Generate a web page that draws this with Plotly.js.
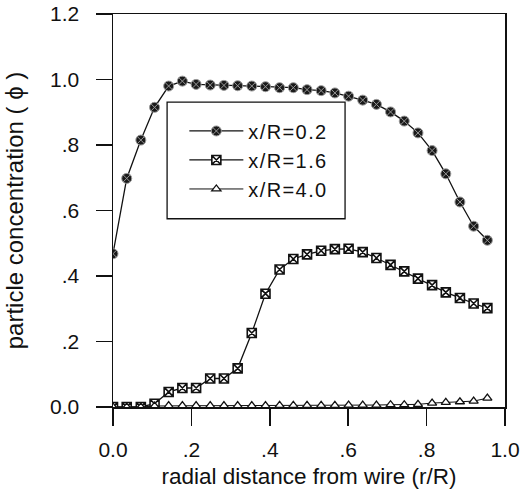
<!DOCTYPE html>
<html>
<head>
<meta charset="utf-8">
<script src="https://cdn.plot.ly/plotly-3.0.1.min.js"></script>
<style>
html,body{margin:0;padding:0;background:#fff;}
#chart{width:527px;height:498px;}
#chart .legendtext{letter-spacing:1.4px;}
#chart .legend .scrollbox{clip-path:none !important;}
</style>
</head>
<body>
<div id="chart"></div>
<script>
var rr = [0, .035, .071, .106, .142, .177, .212, .248, .283, .318, .354, .389, .425, .460, .495, .531, .566, .601, .637, .672, .708, .743, .778, .814, .849, .885, .920, .955];
var conc02 = [0.468, 0.698, 0.815, 0.915, 0.980, 0.995, 0.985, 0.983, 0.982, 0.981, 0.980, 0.978, 0.975, 0.975, 0.969, 0.966, 0.959, 0.949, 0.937, 0.924, 0.901, 0.873, 0.837, 0.783, 0.712, 0.626, 0.552, 0.509];
var conc16 = [0, 0, 0, 0.010, 0.046, 0.058, 0.058, 0.087, 0.087, 0.118, 0.226, 0.346, 0.420, 0.452, 0.466, 0.477, 0.482, 0.483, 0.473, 0.455, 0.434, 0.414, 0.392, 0.372, 0.350, 0.333, 0.316, 0.302];
var conc40 = [0, 0, 0, 0.003, 0.004, 0.004, 0.004, 0.004, 0.004, 0.004, 0.004, 0.004, 0.005, 0.005, 0.005, 0.005, 0.005, 0.006, 0.006, 0.006, 0.007, 0.007, 0.008, 0.012, 0.014, 0.016, 0.018, 0.027];
var seriesNames = ["x/R=0.2", "x/R=1.6", "x/R=4.0"];
var xTickVals = [0, 0.2, 0.4, 0.6, 0.8, 1.0];
var xTickText = ["0.0", ".2", ".4", ".6", ".8", "1.0"];
var yTickVals = [0, 0.2, 0.4, 0.6, 0.8, 1.0, 1.2];
var yTickText = ["0.0", ".2", ".4", ".6", ".8", "1.0", "1.2"];

var FONT = "Liberation Sans, Arial, sans-serif";
var traces = [
  {x: rr, y: conc02, name: seriesNames[0], mode: "lines+markers", type: "scatter",
   line: {color: "#111", width: 1.3},
   marker: {symbol: "circle-x", size: 10, color: "#1a1a1a", line: {color: "#999", width: 1}}},
  {x: rr, y: conc16, name: seriesNames[1], mode: "lines+markers", type: "scatter",
   line: {color: "#111", width: 1.3},
   marker: {symbol: "square-x", size: 9, color: "#fff", line: {color: "#111", width: 1.6}}},
  {x: rr, y: conc40, name: seriesNames[2], mode: "lines+markers", type: "scatter",
   line: {color: "#111", width: 1},
   marker: {symbol: "triangle-up", size: 8, color: "#fff", line: {color: "#111", width: 1.3}}}
];

var layout = {
  width: 527, height: 498,
  margin: {l: 113, r: 22, t: 14, b: 91},
  paper_bgcolor: "#fff", plot_bgcolor: "#fff",
  font: {family: FONT, color: "#111", size: 21},
  showlegend: true,
  legend: {x: 0.182, y: 0.752, xanchor: "left", yanchor: "top",
           bgcolor: "rgba(0,0,0,0)", borderwidth: 0,
           font: {family: FONT, size: 20, color: "#111"}, itemwidth: 54},
  shapes: [{type: "rect", xref: "paper", yref: "paper",
            x0: 0.138, x1: 0.592, y0: 0.479, y1: 0.776,
            line: {color: "#111", width: 1.3}, fillcolor: "rgba(0,0,0,0)"}],
  xaxis: {range: [0, 1.0], tickvals: xTickVals, ticktext: xTickText,
          showgrid: false, zeroline: false, showline: true, mirror: true,
          linecolor: "#111", linewidth: 1.5, ticks: "outside", ticklen: 17,
          tickwidth: 1.5, tickcolor: "#111", ticklabelstandoff: 6,
          tickfont: {size: 21, family: FONT, color: "#111"},
          title: {text: "radial distance from wire (r/R)", standoff: 8,
                  font: {size: 22.5, family: FONT, color: "#111"}}},
  yaxis: {range: [0, 1.2], tickvals: yTickVals, ticktext: yTickText,
          showgrid: false, zeroline: false, showline: true, mirror: true,
          linecolor: "#111", linewidth: 1.5, ticks: "outside", ticklen: 16,
          tickwidth: 1.5, tickcolor: "#111", ticklabelstandoff: 12,
          tickfont: {size: 21, family: FONT, color: "#111"},
          title: {text: "particle concentration ( ϕ )", standoff: 19,
                  font: {size: 24, family: FONT, color: "#111"}}}
};

Plotly.newPlot("chart", traces, layout, {displayModeBar: false, staticPlot: true});
</script>
</body>
</html>
